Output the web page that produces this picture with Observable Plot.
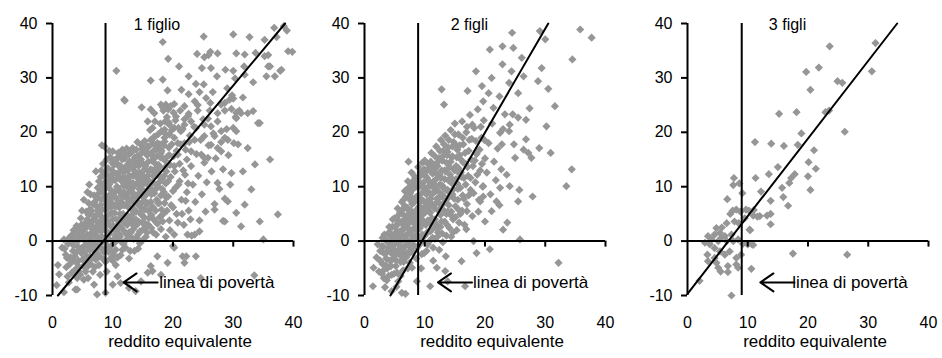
<!DOCTYPE html>
<html><head><meta charset="utf-8">
<script src="https://cdn.jsdelivr.net/npm/d3@7"></script>
<script src="https://cdn.jsdelivr.net/npm/@observablehq/plot@0.6"></script>
<style>
body{margin:0;background:#fff;}
#chart{position:relative;width:942px;height:358px;overflow:hidden;font-family:"Liberation Sans",Arial,sans-serif;}
#chart svg{position:absolute;top:0;}
</style></head><body><div id="chart"></div>
<script>
const xTicks = [0, 10, 20, 30, 40];
const yTicks = [-10, 0, 10, 20, 30, 40];
const panelTitles = ["1 figlio", "2 figli", "3 figli"];
const titleX = [13.5, 14.3, 13.5];
const titleY = 39.7;
const povertyLine = [8.8, 8.9, 9.0];
const regression1 = [[0.9, -10], [38.6, 40]];
const regression2 = [[4.3, -10], [30.5, 40]];
const regression3 = [[0, -9.7], [34.8, 40]];
const arrowTip = [11.8, 12.2, 12.1];
const arrowY = -7.6;
const arrowLabelX = [17.7, 18.0, 17.4];
const arrowLabel = "linea di povertà";
const xLabel = "reddito equivalente";

const figlio1 = [
[18.3,36.6],[25.1,37.6],[30.0,38.0],[32.7,37.5],[35.2,37.0],[36.8,39.2],[38.4,39.5],[38.9,38.7],[37.2,37.5],
[19.2,33.5],[24.0,34.4],[25.2,33.8],[26.2,34.8],[27.4,34.5],[25.9,34.2],[30.5,34.5],[31.9,34.3],[33.7,34.6],[35.8,34.2],[39.8,34.8],
[10.6,31.3],[21.0,32.1],[24.8,31.8],[26.3,31.8],[28.7,31.5],[31.8,32.1],[36.1,32.1],[37.8,31.3],[30.0,31.3],
[16.3,29.5],[18.3,29.7],[22.6,30.3],[27.3,30.3],[31.9,30.6],[30.3,29.9],[33.3,29.2],[35.5,30.3],
[19.1,27.7],[21.4,27.8],[22.6,27.0],[23.8,28.9],[25.1,28.8],[26.6,27.4],[29.0,28.1],[24.4,27.4],
[12.0,25.8],[14.8,24.6],[16.3,24.2],[18.0,25.1],[18.8,25.1],[20.2,25.2],[21.9,24.8],[23.6,25.7],[25.5,26.3],[26.2,25.4],[28.0,25.1],[29.4,26.0],[30.0,26.2],[29.7,24.3],[31.6,26.4],[33.3,23.9],[31.3,23.5],
[16.9,23.5],[18.4,24.0],[19.2,24.2],[20.5,22.9],[22.6,23.4],[24.1,24.0],[25.8,22.5],[27.4,23.5],[28.6,24.0],[30.5,22.6],[31.0,24.0],[32.4,23.5],[34.4,21.7],
[15.8,22.0],[16.6,20.8],[18.6,20.5],[19.4,21.4],[20.2,20.8],[21.3,20.2],[21.9,21.4],[23.0,22.0],[23.8,20.8],[25.2,21.4],[26.3,21.1],[28.0,20.2],[30.0,20.8],[30.5,20.2],[28.6,19.0],[26.9,19.3],
[8.6,17.4],[10.0,16.5],[11.6,16.8],[13.3,17.1],[14.7,17.7],[16.3,18.6],[17.4,18.0],[18.6,18.3],[19.4,19.6],[20.2,19.0],[21.9,18.0],[23.6,18.6],[25.2,19.3],[26.3,17.7],[27.4,17.1],[29.1,18.6],
[10.8,15.3],[12.7,15.9],[14.1,15.6],[15.8,16.2],[16.9,15.3],[18.0,16.2],[19.1,15.6],[20.8,15.9],[23.0,16.5],[24.7,15.9],[25.8,15.3],[28.0,16.5],
[20.0,-0.9],[21.6,-2.8],[23.8,-2.8],[21.9,-4.0],[19.1,-4.0],[17.4,-2.8],[16.3,-4.6],[18.0,-6.2],[15.8,-5.8],[10.8,-6.5],[11.3,-7.7],[10.0,-8.0],[12.7,-8.6],[8.8,-9.5],[7.4,-9.8],[6.9,-8.0],[5.2,-7.1],[3.8,-8.9],[1.9,-9.4],
[0.7,-8.1],[0.9,-4.4],[1.1,-6.1],[1.6,-1.2],[1.9,0.3],[2.4,-3.1],[4.1,-8.9],[24.6,-6.8],[33.5,-6.3],[13.8,-9.2],[14.7,-7.4],[16.6,-5.5],[20.2,-1.2],[22.2,-2.8],
[5.2,7.6],[6.1,10.4],[11.9,26.0],
[28.6,3.6],[31.3,2.7],[31.9,6.7],[33.0,9.5],[33.6,14.1],[36.1,15.0],[37.4,4.9],[34.4,3.6],[35.0,0.3],[29.1,7.3],[29.7,12.5],[31.6,12.8],[32.4,17.1],[34.1,21.7],[30.5,23.6],
[39.1,34.9],[38.0,31.5],[36.9,30.3],[35.8,32.1],[35.2,34.0],[30.5,5.2],[27.4,10.7],[28.6,7.8],[25.2,15.3],[23.6,1.2],[24.4,1.8],[22.4,1.2],[26.9,5.8],[28.3,3.7],[30.8,17.8]
];

const figlio1Cloud = [
[2.2,-2.5],[2.6,-0.5],[2.9,-4.2],[3.1,1.0],[2.5,-6.5],[3.4,-1.8],[3.0,-3.0],
[3.6,0.4],[3.8,-5.2],[4.0,2.8],[4.2,-1.0],[4.3,-3.6],[4.5,0.9],[4.7,4.2],[4.8,-2.2],[5.0,1.8],[5.1,-4.6],[4.6,-6.2],[5.3,3.2],[5.4,-0.8],
[5.6,5.4],[5.7,-2.8],[5.8,1.2],[6.0,7.0],[6.1,3.4],[6.2,-1.6],[6.3,-4.2],[6.4,0.2],[6.5,5.6],[6.6,2.2],[6.8,-3.0],[6.9,8.4],[7.0,4.0],[7.1,-0.6],[6.7,-5.6],[5.9,-6.8],
[7.2,1.6],[7.3,6.4],[7.4,-2.2],[7.5,9.8],[7.6,3.0],[7.7,-4.4],[7.8,5.0],[7.9,0.6],[8.0,11.8],[8.1,7.6],[8.2,-1.4],[8.3,2.8],[8.4,14.2],[8.4,9.2],[8.5,-3.4],[8.0,4.6],[8.2,17.6],
[8.7,5.8],[8.8,0.0],[8.9,12.4],[9.0,-5.6],[9.1,3.6],[9.2,8.0],[9.3,-2.0],[9.4,10.4],[9.5,1.4],[9.6,15.4],[9.7,6.2],[9.8,-0.8],[9.9,13.0],[10.0,4.0],[10.0,-3.6],[9.4,16.6],
[10.2,8.8],[10.3,2.0],[10.4,11.2],[10.5,-1.6],[10.6,14.4],[10.7,6.4],[10.8,0.4],[10.9,16.2],[11.0,9.6],[11.1,3.8],[11.2,12.8],[11.3,-2.6],[11.4,7.2],[11.5,-0.2],[10.5,-4.4],
[11.6,15.0],[11.7,5.0],[11.8,10.2],[11.9,1.8],[12.0,13.4],[12.1,-1.2],[12.2,8.0],[12.3,17.0],[12.4,3.0],[12.5,11.2],[12.6,6.2],[12.7,-3.2],[12.8,14.6],[12.9,0.8],[13.0,9.2],[13.0,4.4],
[13.2,16.4],[13.3,12.0],[13.4,2.2],[13.5,7.0],[13.6,-1.8],[13.7,10.4],[13.8,14.0],[13.9,5.4],[14.0,0.6],[14.1,18.2],[14.2,8.6],[14.3,3.6],[14.4,12.6],[14.5,-0.4],
[14.6,16.0],[14.7,6.2],[14.8,10.2],[14.9,2.0],[15.0,14.2],[15.1,8.0],[15.2,4.4],[15.3,18.4],[15.4,11.6],[15.5,0.8],[15.6,6.8],[15.7,15.8],[15.8,9.4],[15.9,3.0],[16.0,12.8],
[16.2,20.4],[16.3,7.2],[16.4,4.8],[16.5,14.8],[16.6,10.8],[16.7,1.6],[16.8,17.8],[16.9,8.8],[17.0,22.0],[17.1,5.6],[17.2,12.4],[17.3,15.6],[17.4,3.2],[17.5,19.6],[17.5,10.0],
[17.7,7.0],[17.8,13.6],[17.9,21.6],[18.0,2.2],[18.1,16.6],[18.2,9.6],[18.3,24.6],[18.4,5.0],[18.5,12.0],[18.6,19.0],[18.7,14.8],[18.8,0.8],[18.9,8.0],[19.0,22.8],
[19.2,11.0],[19.3,17.2],[19.4,3.8],[19.5,14.0],[19.6,24.8],[19.7,6.6],[19.8,20.4],[20.0,9.2],[20.1,15.6],[20.2,1.2],[20.3,12.8],[20.4,22.2],[20.6,5.0],[20.8,18.0],[20.9,10.4],
[21.1,14.2],[21.2,24.0],[21.4,7.6],[21.6,20.6],[21.8,3.0],[22.0,12.2],[22.1,16.8],[22.3,9.0],[22.5,23.0],[22.6,5.6],[22.8,19.4],[23.0,13.8],[23.1,1.0],
[23.3,10.4],[23.5,21.0],[23.7,7.2],[23.9,16.0],[24.1,25.0],[24.2,12.0],[24.4,3.8],[24.6,18.6],[24.8,8.6],[25.0,22.4],[25.2,14.4],[25.4,5.4],
[25.6,10.8],[25.9,17.6],[26.1,24.0],[26.4,12.8],[26.7,19.8],[26.9,6.8],[27.1,15.2],[27.4,22.0],[27.7,9.6],[28.0,18.2],[28.3,13.2],[28.6,25.4],
[28.9,20.6],[29.2,15.8],[29.5,10.4],[29.8,26.8],[30.1,18.0],[30.4,22.8],
[2.0,-1.4],[2.3,-4.8],[2.8,0.6],[3.2,-5.8],[3.3,-0.2],[2.7,-7.6],[3.5,2.0],
[3.7,-2.8],[3.9,1.6],[4.1,-6.8],[4.4,-4.8],[4.4,2.0],[4.9,-1.2],[4.9,5.6],[5.2,0.4],[5.3,-3.2],[5.5,-5.6],[4.0,-4.0],
[5.6,-0.2],[5.7,2.8],[5.9,-4.6],[6.0,4.8],[6.2,-2.8],[6.3,8.6],[6.4,1.4],[6.5,-0.8],[6.6,3.6],[6.7,6.8],[6.9,-1.8],[7.0,1.0],[7.0,-4.8],[5.8,9.0],
[7.2,-3.4],[7.3,4.8],[7.4,0.0],[7.5,8.0],[7.6,-1.2],[7.7,11.0],[7.8,2.2],[7.9,-6.2],[8.0,6.6],[8.1,13.0],[8.2,0.8],[8.3,10.4],[8.4,4.0],[8.5,-2.0],[8.5,7.8],[7.2,12.8],
[8.6,2.6],[8.7,10.8],[8.8,-3.8],[8.9,6.8],[9.0,15.0],[9.1,1.0],[9.2,-1.0],[9.3,4.8],[9.4,12.0],[9.5,7.4],[9.6,-3.2],[9.7,9.4],[9.8,2.6],[9.9,14.4],[10.0,6.8],[10.0,0.2],[9.2,11.0],
[10.1,12.4],[10.2,-2.6],[10.3,5.2],[10.4,15.0],[10.5,1.0],[10.6,7.8],[10.7,10.0],[10.8,-3.0],[10.9,3.0],[11.0,13.8],[11.1,6.2],[11.2,0.8],[11.3,9.0],[11.4,15.6],[11.5,4.6],[11.5,11.0],
[11.6,-1.6],[11.7,8.2],[11.8,12.6],[11.9,3.4],[12.0,6.6],[12.1,16.0],[12.2,0.2],[12.3,10.4],[12.4,14.0],[12.5,4.6],[12.6,8.8],[12.7,1.6],[12.8,12.0],[12.9,-1.8],[13.0,6.0],[13.0,16.6],
[13.2,3.4],[13.3,9.8],[13.4,14.8],[13.5,0.4],[13.6,5.8],[13.7,12.8],[13.8,8.2],[13.9,16.8],[14.0,3.0],[14.1,10.6],[14.2,-1.4],[14.3,6.6],[14.4,14.6],[14.5,1.8],
[14.6,9.0],[14.7,12.4],[14.8,4.8],[14.9,17.0],[15.0,0.2],[15.1,10.8],[15.2,7.4],[15.3,13.2],[15.4,3.2],[15.5,16.4],[15.6,8.6],[15.7,1.6],[15.8,12.0],[15.9,5.6],[16.0,17.4],
[16.2,9.8],[16.3,13.2],[16.4,2.4],[16.5,6.2],[16.6,16.4],[16.7,12.0],[16.8,4.0],[16.9,19.2],[17.0,9.4],[17.1,14.2],[17.2,1.2],[17.3,7.6],[17.4,17.2],[17.5,12.6],
[17.7,10.8],[17.8,4.4],[17.9,15.4],[18.0,8.4],[18.1,20.2],[18.2,11.4],[18.3,3.6],[18.5,17.6],[18.6,7.0],[18.7,22.0],[18.8,10.6],[18.9,13.8],[19.0,5.6],
[19.2,8.2],[19.3,21.8],[19.4,15.8],[19.5,2.0],[19.6,11.8],[19.8,17.8],[20.0,6.2],[20.1,23.6],[20.2,13.8],[20.4,9.8],[20.6,16.6],[20.8,3.4],[20.9,20.8],
[21.1,11.0],[21.3,17.8],[21.5,5.0],[21.7,13.0],[21.9,22.4],[22.1,7.4],[22.3,15.0],[22.5,10.6],[22.7,18.2],[22.9,4.0]
];

const figlio1Core = [
[3.2,-3.6],[3.5,-0.8],[3.7,1.2],[4.0,-2.0],[4.2,0.0],[4.4,-5.6],[4.6,-1.6],[4.8,3.0],[5.0,-3.4],[5.1,0.8],
[5.3,-2.0],[5.5,2.4],[5.6,-4.0],[5.8,4.0],[5.9,-1.0],[6.1,0.8],[6.2,5.8],[6.3,-3.4],[6.5,2.8],[6.6,-0.4],[6.8,4.6],[6.9,1.6],[7.0,7.2],[7.1,-2.6],
[7.2,3.8],[7.3,-0.6],[7.4,2.6],[7.5,5.6],[7.6,0.6],[7.7,8.8],[7.8,-2.8],[7.9,3.6],[8.0,9.8],[8.1,1.8],[8.2,5.8],[8.3,-0.2],[8.4,12.0],[8.5,3.2],[8.6,8.6],[8.7,-1.4],[8.8,4.4],[8.9,9.8],[9.0,1.8],
[9.1,6.0],[9.2,13.4],[9.3,0.4],[9.4,8.4],[9.5,3.0],[9.6,11.6],[9.7,-1.8],[9.8,5.2],[9.9,8.2],[10.0,11.2],[10.1,2.8],[10.2,14.0],[10.3,6.4],[10.4,-0.2],[10.5,9.2],[10.6,4.0],[10.7,12.4],[10.8,2.2],[10.9,7.0],[11.0,11.8],
[11.1,1.2],[11.2,5.0],[11.3,13.8],[11.4,8.4],[11.5,2.4],[11.6,11.6],[11.7,6.6],[11.8,-0.6],[11.9,9.0],[12.0,15.2],[12.1,4.4],[12.2,11.6],[12.3,1.2],[12.4,6.8],[12.5,13.0],[12.6,9.8],[12.7,3.6],[12.8,7.6],[12.9,10.8],[13.0,1.6],
[13.1,7.8],[13.2,13.6],[13.3,5.0],[13.4,10.6],[13.5,2.8],[13.6,8.6],[13.7,15.4],[13.8,4.0],[13.9,11.8],[14.0,7.4],[14.2,1.2],[14.3,13.8],[14.4,9.6],[14.5,5.2],[14.6,11.4],[14.7,15.0],[14.8,7.0],[14.9,3.4],
[15.0,12.0],[15.1,16.8],[15.2,9.2],[15.3,5.8],[15.4,13.8],[15.5,2.6],[15.6,10.6],[15.7,17.4],[15.8,7.0],[15.9,14.6],[16.0,4.2],[16.1,11.0],[16.3,16.0],[16.4,8.6],[16.6,13.0],[16.7,6.2],[16.8,19.0],
[17.0,13.2],[17.1,3.6],[17.2,16.8],[17.3,10.2],[17.5,7.0],[17.6,14.0],[17.8,17.8],[18.0,11.6],[18.1,5.8],[18.3,15.2],[18.5,9.0],[18.7,19.8],[18.9,12.8]
];

const figli2 = [
[24.5,38.3],[35.8,38.9],[37.7,37.4],[29.1,38.6],[30.0,37.1],[34.5,33.4],[24.7,35.5],[22.9,35.8],[20.8,35.2],[22.9,32.5],[18.5,31.2],[21.1,30.0],[19.5,28.5],[12.8,27.9],[13.2,25.1],
[17.1,27.6],[20.6,27.2],[22.4,26.6],[24.0,29.1],[26.4,30.3],[29.4,31.8],[28.8,29.4],[30.5,28.0],[31.6,24.8],[27.4,24.4],[25.5,27.2],[24.4,31.2],[26.1,33.7],[21.4,24.5],[19.7,25.7],
[33.5,10.1],[34.4,13.2],[30.9,16.2],[30.2,21.1],[29.0,17.1],[27.9,8.2],[25.5,7.3],[25.7,9.4],[23.7,3.4],[23.0,2.1],[25.8,0.3],[32.2,-4.0],[20.8,-1.5],[18.6,-2.2],[18.1,0.0],
[16.1,-3.7],[16.7,-8.3],[13.8,-7.4],[13.4,-5.5],[12.0,-4.9],[10.9,-8.3],[8.7,-7.4],[7.9,-4.9],[6.2,-9.5],[6.8,-9.7],[4.5,-9.2],[3.4,-8.5],[1.4,-8.3],[1.5,-4.9],[2.9,-0.9],[3.0,0.6],
[17.0,5.5],[19.7,10.1],[19.2,7.3],[21.9,7.3],[21.1,5.5],[22.5,9.8],[23.6,12.2],[24.1,10.1],[25.0,15.3],[26.4,16.8],[27.2,16.2],[27.7,15.3],[26.8,18.7],[24.8,17.8],[22.8,17.8],
[24.0,20.2],[22.5,19.9],[24.1,21.4],[25.5,22.7],[26.8,22.3],[24.6,23.3],[23.3,23.3]
];

const figli2Cloud = [
[2.0,-3.0],[2.4,-5.6],[2.6,-1.8],[3.0,-4.2],[3.2,-6.8],[3.4,-2.4],[3.6,0.2],[3.8,-5.0],[4.0,-1.2],[4.2,-3.6],[3.9,1.4],
[4.4,0.8],[4.5,-6.2],[4.6,2.6],[4.8,-2.6],[5.0,4.2],[5.1,-0.4],[5.2,-4.6],[5.4,1.8],[5.5,6.0],[5.6,-7.4],[5.7,-1.6],[5.8,3.4],[6.0,0.0],[6.0,-3.8],[5.3,-8.4],
[6.2,7.2],[6.3,2.0],[6.4,-5.4],[6.5,4.8],[6.6,-1.0],[6.7,9.2],[6.8,1.0],[6.9,-3.0],[7.0,6.2],[7.1,3.0],[7.2,11.0],[7.3,-0.6],[7.4,8.0],[7.5,-4.0],[7.6,4.6],[7.7,1.8],[7.8,12.6],[7.9,6.8],[8.0,-2.0],[7.3,14.6],
[8.1,9.6],[8.2,3.4],[8.3,0.4],[8.4,11.8],[8.5,5.6],[8.6,-3.2],[8.7,8.2],[8.8,2.0],[8.9,13.6],[9.0,-0.8],[9.1,6.4],[9.2,10.6],[9.3,3.8],[9.4,-5.0],[9.5,8.8],[9.6,1.2],[9.7,12.4],[9.8,5.0],[9.9,-2.2],[10.0,9.8],[10.0,14.8],
[10.2,3.0],[10.3,7.2],[10.4,11.6],[10.5,-0.6],[10.6,5.6],[10.7,9.0],[10.8,13.4],[10.9,1.8],[11.0,7.8],[11.1,16.2],[11.2,4.2],[11.3,10.8],[11.4,-3.6],[11.5,14.0],[11.6,6.0],[11.7,0.4],[11.8,9.2],[11.9,17.4],[12.0,3.0],[12.0,12.4],
[12.2,7.2],[12.3,15.2],[12.4,-1.6],[12.5,10.4],[12.6,4.8],[12.7,18.6],[12.8,13.0],[12.9,1.4],[13.0,8.4],[13.1,16.6],[13.2,5.6],[13.3,11.4],[13.4,19.4],[13.5,-2.8],[13.6,14.4],[13.7,3.0],[13.8,9.4],[13.9,17.2],[14.0,6.6],
[14.2,12.2],[14.3,20.4],[14.4,0.8],[14.5,15.4],[14.6,8.6],[14.7,4.0],[14.8,18.2],[14.9,11.0],[15.0,21.6],[15.1,6.4],[15.2,13.8],[15.3,2.0],[15.4,16.8],[15.5,9.6],[15.6,19.6],[15.8,12.4],[15.9,5.0],[16.0,15.0],
[16.2,22.0],[16.3,8.4],[16.4,17.8],[16.5,11.6],[16.6,3.0],[16.8,14.2],[16.9,20.0],[17.0,6.8],[17.2,12.0],[17.3,16.6],[17.5,23.2],[17.6,9.4],[17.8,18.8],[17.9,4.6],[18.0,13.8],
[18.2,20.8],[18.4,10.8],[18.6,16.0],[18.8,24.2],[19.0,7.6],[19.2,13.0],[19.4,19.0],[19.6,10.0],[19.8,22.2],[20.0,15.2],[20.0,3.6],
[20.3,12.6],[20.6,18.0],[20.9,8.6],[21.2,21.6],[21.5,14.6],[21.8,11.2],[22.1,17.0],[22.4,6.6],[22.7,13.2],[23.0,20.6],
[2.2,-0.6],[2.6,-3.6],[2.9,-6.0],[3.1,-1.0],[3.3,1.2],[3.5,-4.4],[3.7,-7.2],[3.8,-1.8],[4.1,2.6],
[4.3,-2.0],[4.4,-4.6],[4.6,-0.4],[4.7,4.0],[4.9,-6.0],[5.0,1.2],[5.2,-2.4],[5.3,3.0],[5.4,-5.8],[5.6,0.4],[5.7,4.8],[5.9,-2.6],[5.9,1.8],[6.0,-6.4],
[6.1,-1.8],[6.2,3.6],[6.3,5.8],[6.4,0.2],[6.5,-3.8],[6.6,2.4],[6.7,6.4],[6.8,-2.2],[6.9,8.2],[7.0,0.2],[7.1,4.6],[7.2,-5.0],[7.3,9.8],[7.4,2.2],[7.5,5.4],[7.6,-1.6],[7.7,7.4],[7.8,3.6],[7.9,10.4],[8.0,0.8],
[8.1,5.0],[8.2,-0.8],[8.3,7.2],[8.4,2.6],[8.5,10.2],[8.6,4.2],[8.7,-1.2],[8.8,11.4],[8.9,6.0],[9.0,3.0],[9.1,8.0],[9.2,0.4],[9.3,12.6],[9.4,5.6],[9.5,-2.4],[9.6,10.0],[9.7,3.2],[9.8,7.4],[9.9,13.2],[10.0,1.0],
[10.1,5.4],[10.2,9.2],[10.3,-1.8],[10.4,13.0],[10.5,3.8],[10.6,7.4],[10.7,11.0],[10.8,0.0],[10.9,5.2],[11.0,14.6],[11.1,2.0],[11.2,8.6],[11.3,12.4],[11.4,-1.2],[11.5,6.2],[11.6,10.4],[11.7,15.6],[11.8,2.6],[11.9,7.0],[12.0,10.0],
[12.1,13.8],[12.2,1.6],[12.3,5.6],[12.4,9.0],[12.5,16.6],[12.6,2.6],[12.7,11.6],[12.8,6.6],[12.9,14.8],[13.0,-0.2],[13.1,9.8],[13.2,17.8],[13.3,3.6],[13.4,7.2],[13.5,12.8],[13.6,1.0],[13.7,15.8],[13.8,5.4],[13.9,11.2],[14.0,18.6],
[14.1,2.4],[14.2,8.8],[14.3,14.6],[14.4,5.4],[14.5,10.6],[14.6,17.4],[14.7,1.6],[14.8,13.2],[14.9,7.8],[15.0,19.6],[15.1,4.4],[15.2,11.4],[15.3,15.4],[15.5,7.6],[15.6,13.4],[15.7,3.4],[15.8,17.6],[15.9,9.8],
[16.1,11.8],[16.2,5.6],[16.3,19.0],[16.4,14.4],[16.5,7.8],[16.7,16.2],[16.8,10.4],[16.9,2.2],[17.0,21.0],[17.1,13.6],[17.3,8.4],[17.4,18.6],[17.6,11.6],[17.7,15.0],[17.9,21.4],
[18.1,8.8],[18.3,14.8],[18.5,18.4],[18.7,12.2],[18.9,5.4],[19.1,16.8],[19.3,21.0],[19.5,14.2],[19.7,8.2],[19.9,18.6]
];

const figli2Core = [
[3.0,-2.0],[3.3,-5.2],[3.6,-3.2],[3.8,-0.2],[4.0,-6.4],[4.2,1.6],[4.4,-1.0],[4.6,-3.4],[4.8,0.4],[5.0,-1.6],
[5.1,2.6],[5.3,-3.6],[5.5,0.8],[5.6,3.8],[5.8,-0.8],[5.9,5.2],[6.1,1.2],[6.2,-2.8],[6.4,3.0],[6.5,7.6],[6.7,0.8],[6.8,4.0],[6.9,-0.8],[7.0,9.4],
[7.1,1.2],[7.2,5.8],[7.3,3.6],[7.5,-2.2],[7.6,8.8],[7.7,5.6],[7.8,0.2],[8.0,7.8],[8.1,2.2],[8.2,11.2],[8.3,4.2],[8.5,8.0],[8.6,1.2],[8.7,5.6],[8.9,9.8],[9.0,4.8],
[9.1,11.8],[9.2,2.4],[9.3,7.2],[9.5,4.0],[9.6,14.4],[9.7,0.0],[9.8,10.8],[9.9,6.2],[10.0,3.2],[10.1,12.0],[10.3,8.6],[10.4,1.6],[10.5,14.2],[10.7,6.4],[10.8,10.2],[11.0,3.2],[11.1,12.8],
[11.2,6.8],[11.3,0.6],[11.5,9.8],[11.6,13.4],[11.7,4.0],[11.9,11.4],[12.0,7.8],[12.1,0.8],[12.2,14.6],[12.4,5.8],[12.5,12.2],[12.6,8.2],[12.8,3.6],[12.9,10.2],[13.0,15.6],
[13.2,7.8],[13.3,13.0],[13.5,9.4],[13.6,5.0],[13.8,16.4],[13.9,8.0],[14.1,13.6],[14.3,4.8],[14.4,11.6],[14.6,15.6],[14.8,9.6],[15.0,13.0],[15.2,17.6],[15.4,10.6],[15.6,5.8],[15.8,15.8],[16.0,12.6]
];

const figli3 = [
[23.6,35.8],[31.2,36.4],[30.6,31.2],[21.8,31.9],[19.7,31.1],[20.4,27.8],[24.9,29.4],[25.7,29.1],[22.9,23.7],[23.5,24.0],[18.1,23.7],[15.2,23.4],[26.1,20.1],[18.9,19.8],
[11.2,18.2],[13.9,17.9],[16.0,17.5],[18.3,17.7],[21.0,16.7],[20.1,14.5],[21.3,13.3],[15.0,13.6],[17.8,12.3],[17.2,11.6],[20.0,11.9],[16.9,10.7],[20.4,9.4],
[11.3,11.6],[13.5,12.3],[12.2,9.1],[15.7,9.8],[13.8,7.4],[15.9,8.1],[16.7,6.5],[7.7,11.6],[7.6,10.3],[8.6,10.6],[9.1,8.8],[6.6,7.7],
[13.8,5.0],[13.8,3.1],[13.2,4.7],[12.0,4.6],[11.6,4.5],[11.0,5.7],[10.2,5.6],[9.7,5.8],[8.8,5.4],[8.1,5.8],[7.5,5.6],[7.1,5.0],[6.5,3.3],[7.8,3.6],[8.5,3.3],[9.5,4.2],[10.4,2.0],[10.9,4.7],
[3.4,0.9],[4.0,0.3],[4.5,1.2],[5.1,0.0],[5.6,0.6],[5.4,1.5],[6.2,0.9],[4.8,2.4],[5.7,2.5],[6.5,0.0],[7.3,1.2],[7.6,0.0],[8.4,0.3],[2.9,-0.3],[3.7,-0.6],[4.5,-1.3],
[5.4,-1.9],[6.2,-2.5],[7.0,-1.9],[8.1,-3.1],[8.9,-2.5],[9.2,-0.5],[10.0,-0.6],[10.6,-0.5],[10.3,2.1],[10.9,-0.7],[3.3,-2.5],[3.4,-3.7],[4.5,-3.1],[4.8,-4.0],
[5.1,-4.9],[5.5,-5.6],[6.7,-4.6],[6.7,-5.7],[8.1,-4.3],[8.4,-4.9],[10.6,-5.1],[2.0,-7.3],[7.3,-10.0],[17.5,-2.3],[26.5,-2.5]
];

const openArrow = {
  draw(context, l) {
    context.moveTo(0, 0);
    context.lineTo(0, -l);
    context.moveTo(-9, -l + 13);
    context.lineTo(0, -l);
    context.lineTo(9, -l + 13);
  }
};

const panels = [
  {title: panelTitles[0], data: figlio1.concat(figlio1Cloud, figlio1Core), reg: regression1, i: 0, left: 0},
  {title: panelTitles[1], data: figli2.concat(figli2Cloud, figli2Core), reg: regression2, i: 1, left: 312},
  {title: panelTitles[2], data: figli3, reg: regression3, i: 2, left: 635}
];

const container = document.getElementById("chart");
for (const p of panels) {
  const i = p.i;
  const chart = Plot.plot({
    width: 307, height: 358,
    marginLeft: 52, marginRight: 14, marginTop: 23, marginBottom: 63,
    x: {domain: [0, 40]},
    y: {domain: [-10, 40]},
    style: {fontFamily: '"Liberation Sans", Arial, sans-serif', fontSize: "16px", color: "#000", background: "transparent", overflow: "visible"},
    marks: [
      Plot.dot(p.data, {x: d => d[0], y: d => d[1], symbol: "diamond2", r: 3.7, fill: "#969696", stroke: "none"}),
      Plot.ruleX([povertyLine[i]], {strokeWidth: 2}),
      Plot.ruleY([0], {strokeWidth: 2}),
      Plot.ruleX(xTicks.slice(1), {x: d => d, y1: 0, y2: 0, insetBottom: -6, strokeWidth: 2}),
      Plot.ruleX([0], {strokeWidth: 2}),
      Plot.axisY({ticks: yTicks, tickSize: 6, tickPadding: 9, tickFormat: d => String(d), strokeWidth: 2, fontSize: 16, label: null}),
      Plot.axisX({ticks: xTicks, tickSize: 0, tickPadding: 21, tickFormat: d => String(d), fontSize: 16, label: null}),
      Plot.line(p.reg, {x: d => d[0], y: d => d[1], strokeWidth: 2}),
      Plot.text([{x: titleX[i], y: titleY, t: p.title}], {x: "x", y: "y", text: "t", textAnchor: "start", fontSize: 16}),
      Plot.text([{x: arrowLabelX[i], y: arrowY, t: arrowLabel}], {x: "x", y: "y", text: "t", textAnchor: "start", fontSize: 17}),
      Plot.vector([{x: arrowTip[i], y: arrowY}], {x: "x", y: "y", length: 34, rotate: 270, anchor: "end", shape: openArrow, strokeWidth: 2, stroke: "#000"}),
      Plot.text([xLabel], {frameAnchor: "bottom", dx: 7, dy: 51, fontSize: 17})
    ]
  });
  chart.style.left = p.left + "px";
  container.appendChild(chart);
}
</script>
</body></html>
